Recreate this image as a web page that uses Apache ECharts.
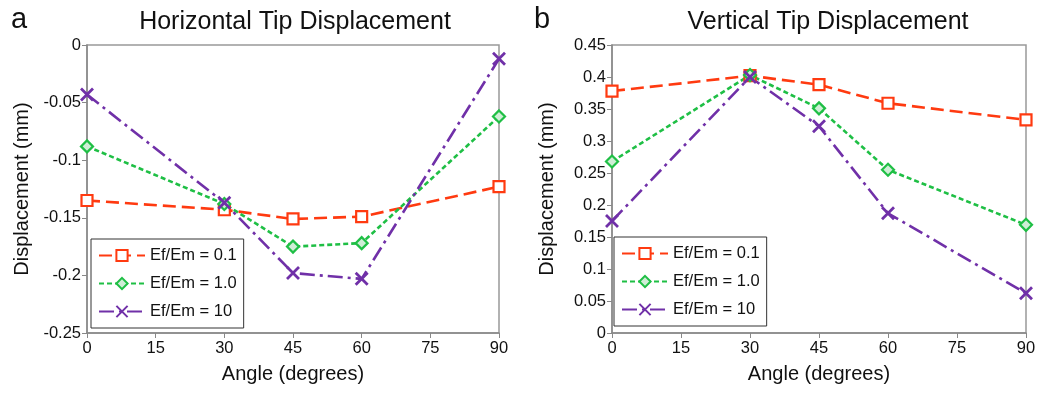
<!DOCTYPE html>
<html><head><meta charset="utf-8">
<script src="https://cdn.jsdelivr.net/npm/echarts@6/dist/echarts.min.js"></script>
<style>html,body{margin:0;padding:0;background:#fff}#c{width:1039px;height:393px}</style>
</head><body><div id="c"></div>
<script>
const angles = [0, 30, 45, 60, 90];
const seriesNames = ['Ef/Em = 0.1', 'Ef/Em = 1.0', 'Ef/Em = 10'];
const horiz01 = [-0.135, -0.143, -0.151, -0.149, -0.123];
const horiz10 = [-0.088, -0.138, -0.175, -0.172, -0.062];
const horiz100 = [-0.043, -0.137, -0.198, -0.203, -0.012];
const vert01 = [0.378, 0.402, 0.388, 0.359, 0.333];
const vert10 = [0.268, 0.403, 0.351, 0.255, 0.169];
const vert100 = [0.175, 0.400, 0.323, 0.187, 0.062];

const FONT = 'Liberation Sans, Arial, sans-serif';
const RED = '#ff3a10', GREEN = '#1fbf45', PURPLE = '#7030a8';
const crossPath = 'path://M0,0L10,10M10,0L0,10';

function pts(ys){ return angles.map((a,i)=>[a, ys[i]]); }
function mkSeries(idx, a, b, c){
  const base = {type:'line', xAxisIndex:idx, yAxisIndex:idx, animation:false};
  return [
    Object.assign({}, base, {name:seriesNames[0], data:pts(a), symbol:'rect', symbolSize:11,
      lineStyle:{color:RED, width:2.6, type:[13,6]},
      itemStyle:{color:'#fff', borderColor:RED, borderWidth:2.2}}),
    Object.assign({}, base, {name:seriesNames[1], data:pts(b), symbol:'diamond', symbolSize:12,
      lineStyle:{color:GREEN, width:2.6, type:[5,3]},
      itemStyle:{color:'#cfeed6', borderColor:GREEN, borderWidth:2.2}}),
    Object.assign({}, base, {name:seriesNames[2], data:pts(c), symbol:crossPath, symbolSize:12,
      lineStyle:{color:PURPLE, width:2.6, type:[15,5,3,5]},
      itemStyle:{color:PURPLE, borderColor:PURPLE, borderWidth:2.8}})
  ];
}
function xAx(idx){
  return {type:'value', gridIndex:idx, min:0, max:90, interval:15,
    name:'Angle (degrees)', nameLocation:'middle', nameGap:31,
    nameTextStyle:{fontFamily:FONT, fontSize:20, color:'#111'},
    axisLine:{show:true, onZero:false, lineStyle:{color:'#888', width:1.5}},
    axisTick:{show:true, inside:false, length:5, lineStyle:{color:'#888'}},
    axisLabel:{fontFamily:FONT, fontSize:16.5, color:'#111', margin:7},
    splitLine:{show:false}};
}
function yAx(idx, min, max){
  return {type:'value', gridIndex:idx, min:min, max:max, interval:0.05,
    name:'Displacement (mm)', nameLocation:'middle', nameGap:55,
    nameTextStyle:{fontFamily:FONT, fontSize:20, color:'#111'},
    axisLine:{show:true, onZero:false, lineStyle:{color:'#888', width:1.5}},
    axisTick:{show:true, inside:false, length:5, lineStyle:{color:'#888'}},
    axisLabel:{fontFamily:FONT, fontSize:16.5, color:'#111', margin:6,
      formatter: v => String(Math.round(v*100)/100)},
    splitLine:{show:false}};
}
function legend(left, top){
  return {orient:'vertical', left:left, top:top, data:seriesNames,
    itemWidth:46, itemHeight:14, itemGap:11, padding:[8,7,8,7],
    borderColor:'#333', borderWidth:1, backgroundColor:'#fff',
    textStyle:{fontFamily:FONT, fontSize:16.5, color:'#111'}};
}
const chart = echarts.init(document.getElementById('c'), null, {renderer:'canvas'});
chart.setOption({
  animation:false,
  backgroundColor:'#fff',
  title:[
    {text:'Horizontal Tip Displacement', left:290, top:5, textAlign:'center',
      textStyle:{fontFamily:FONT, fontSize:25, fontWeight:'normal', color:'#111'}},
    {text:'Vertical Tip Displacement', left:823, top:5, textAlign:'center',
      textStyle:{fontFamily:FONT, fontSize:25, fontWeight:'normal', color:'#111'}},
    {text:'a', left:6, top:0, textStyle:{fontFamily:FONT, fontSize:29, fontWeight:'normal', color:'#111'}},
    {text:'b', left:529, top:0, textStyle:{fontFamily:FONT, fontSize:29, fontWeight:'normal', color:'#111'}}
  ],
  grid:[
    {left:87, right:540, top:45, bottom:60, show:true, borderColor:'#999', borderWidth:1.5, backgroundColor:'#fff'},
    {left:612, right:13, top:45, bottom:60, show:true, borderColor:'#999', borderWidth:1.5, backgroundColor:'#fff'}
  ],
  xAxis:[xAx(0), xAx(1)],
  yAxis:[yAx(0, -0.25, 0), yAx(1, 0, 0.45)],
  legend:[legend(91, 239), legend(614, 237)],
  series: mkSeries(0, horiz01, horiz10, horiz100).concat(mkSeries(1, vert01, vert10, vert100))
});
</script></body></html>
